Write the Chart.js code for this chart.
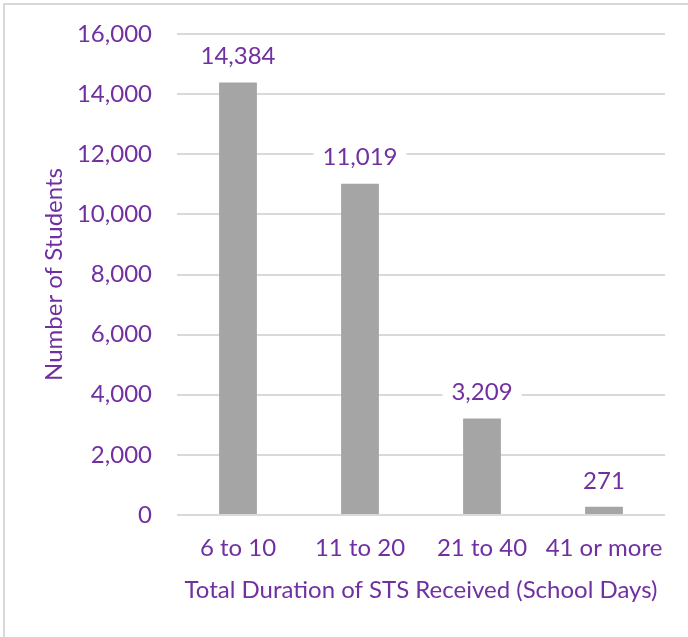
<!DOCTYPE html>
<html>
<head>
<meta charset="utf-8">
<script src="https://cdn.jsdelivr.net/npm/chart.js@4/dist/chart.umd.min.js"></script>
<style>
  body { margin: 0; background: #fff; }
  canvas { display: block; }
</style>
</head>
<body>
<canvas id="barChart" width="688" height="637"></canvas>
<script>
const categories = ['6 to 10', '11 to 20', '21 to 40', '41 or more'];
const students = [14384, 11019, 3209, 271];
const yTicks = [0, 2000, 4000, 6000, 8000, 10000, 12000, 14000, 16000];

const purple = '#7030A0';
const fontFamily = 'Lato, "Open Sans", sans-serif';

// light frame round the chart, runs off the right and bottom edges
const framePlugin = {
    id: 'frame',
    beforeDraw(chart) {
        const ctx = chart.ctx;
        ctx.save();
        ctx.fillStyle = '#fff';
        ctx.fillRect(0, 0, chart.width, chart.height);
        ctx.strokeStyle = '#D9D9D9';
        ctx.lineWidth = 2;
        ctx.strokeRect(4, 4, chart.width + 20, chart.height + 20);
        ctx.restore();
    }
};

// value labels above bars, on a white box that hides the gridline
const valueLabels = {
    id: 'valueLabels',
    afterDatasetsDraw(chart) {
        const ctx = chart.ctx;
        const meta = chart.getDatasetMeta(0);
        ctx.save();
        ctx.font = '24px ' + fontFamily;
        ctx.textAlign = 'center';
        ctx.textBaseline = 'middle';
        meta.data.forEach((bar, i) => {
            const text = students[i].toLocaleString('en-US');
            const w = ctx.measureText(text).width;
            const y = bar.y - 26;
            ctx.fillStyle = '#fff';
            ctx.fillRect(bar.x - w / 2 - 9, y - 14, w + 18, 28);
            ctx.fillStyle = purple;
            ctx.fillText(text, bar.x, y);
        });
        ctx.restore();
    }
};

new Chart(document.getElementById('barChart').getContext('2d'), {
    type: 'bar',
    data: {
        labels: categories,
        datasets: [{
            label: 'Number of Students',
            data: students,
            backgroundColor: '#A5A5A5',
            borderWidth: 0,
            barPercentage: 0.62,
            categoryPercentage: 0.5
        }]
    },
    options: {
        responsive: false,
        animation: false,
        layout: { padding: { top: 34, right: 23, bottom: 0, left: 0 } },
        plugins: {
            legend: { display: false },
            tooltip: { enabled: false }
        },
        scales: {
            x: {
                grid: { display: false, drawTicks: false },
                border: { display: false },
                ticks: {
                    color: purple,
                    font: { family: fontFamily, size: 24 },
                    padding: 19,
                    maxRotation: 0
                },
                title: {
                    display: true,
                    text: 'Total Duration of STS Received (School Days)',
                    color: purple,
                    font: { family: fontFamily, size: 24 },
                    padding: { top: 0, bottom: 32 }
                },
                afterFit(scale) {
                    scale.height = 122;
                    scale.paddingLeft = 0;
                    scale.paddingRight = 0;
                }
            },
            y: {
                min: 0,
                max: 16000,
                afterBuildTicks(scale) {
                    scale.ticks = yTicks.map(v => ({ value: v }));
                },
                grid: { color: '#D9D9D9', lineWidth: 2, drawTicks: false },
                border: { display: false },
                ticks: {
                    color: purple,
                    font: { family: fontFamily, size: 24 },
                    padding: 25,
                    callback: v => v.toLocaleString('en-US')
                },
                title: {
                    display: true,
                    text: 'Number of Students',
                    color: purple,
                    font: { family: fontFamily, size: 24 },
                    padding: { top: 40, bottom: 0 }
                },
                afterFit(scale) {
                    scale.width = 177;
                    scale.paddingTop = 0;
                    scale.paddingBottom = 0;
                }
            }
        }
    },
    plugins: [framePlugin, valueLabels]
});
</script>
</body>
</html>
